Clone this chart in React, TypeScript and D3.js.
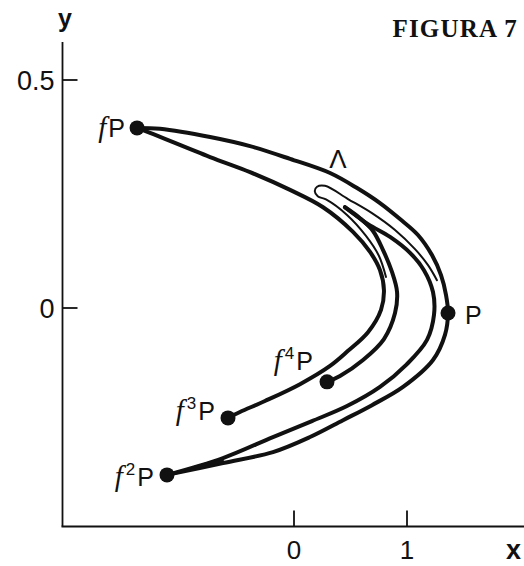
import React from "react";
import * as d3 from "d3";

const WIDTH = 524;
const HEIGHT = 566;

type Pt = [number, number];

// Orbit of the point P under the map f (powers 0..4), in (x, y) coordinates
const orbitPowers = [0, 1, 2, 3, 4];
const orbitPoints: Pt[] = [
  [1.363, -0.011], // P
  [-1.389, 0.395], // fP
  [-1.124, -0.366], // f²P
  [-0.584, -0.241], // f³P
  [0.292, -0.162], // f⁴P
];

// Outer branch of the folded curve: fP → P → f²P
const outerBranch: Pt[] = [
  [-1.389, 0.395], [-1.186, 0.393], [-0.743, 0.375], [-0.389, 0.355],
  [-0.035, 0.327], [0.319, 0.296], [0.558, 0.263], [0.761, 0.23],
  [0.938, 0.195], [1.097, 0.16], [1.221, 0.116], [1.301, 0.072],
  [1.345, 0.029], [1.363, -0.011], [1.336, -0.059], [1.23, -0.114],
  [0.965, -0.173], [0.69, -0.213], [0.434, -0.246], [0.142, -0.283],
  [-0.186, -0.316], [-0.628, -0.34], [-1.124, -0.366],
];

// Inner branch of the first fold: fP → f³P
const foldBranch: Pt[] = [
  [-1.389, 0.395], [-1.274, 0.384], [-0.743, 0.331], [-0.389, 0.298],
  [-0.035, 0.259], [0.257, 0.221], [0.522, 0.167], [0.673, 0.123],
  [0.761, 0.083], [0.796, 0.039], [0.77, -0.004], [0.655, -0.053],
  [0.478, -0.094], [0.319, -0.127], [0.053, -0.167], [-0.257, -0.204],
  [-0.478, -0.228], [-0.584, -0.241],
];

// Second fold, outer side: f²P → cusp
const secondFoldOuter: Pt[] = [
  [-1.124, -0.366], [-0.628, -0.329], [-0.186, -0.283], [0.159, -0.248],
  [0.469, -0.215], [0.761, -0.173], [1.0, -0.123], [1.177, -0.07],
  [1.239, -0.015], [1.23, 0.035], [1.15, 0.083], [1.027, 0.121],
  [0.85, 0.156], [0.655, 0.184], [0.451, 0.221],
];

// Second fold, inner side: cusp → f⁴P
const secondFoldInner: Pt[] = [
  [0.451, 0.221], [0.584, 0.197], [0.699, 0.169], [0.788, 0.127],
  [0.867, 0.079], [0.912, 0.035], [0.894, -0.011], [0.796, -0.068],
  [0.611, -0.114], [0.407, -0.149], [0.292, -0.162],
];

// Thin hairpin fold lying between the branches
const hairpinFold: Pt[] = [
  [1.265, 0.061], [1.186, 0.094], [1.071, 0.129], [0.894, 0.171],
  [0.69, 0.208], [0.478, 0.239], [0.274, 0.268], [0.204, 0.266],
  [0.184, 0.256], [0.21, 0.245], [0.283, 0.238], [0.469, 0.204],
  [0.637, 0.158], [0.752, 0.114], [0.814, 0.068],
];

const xTicks = [0, 1];
const xTickLabels = ["0", "1"];
const yTicks = [0, 0.5];
const yTickLabels = ["0", "0.5"];

const attractorName = "Λ";
const attractorAnchor: Pt = [0.389, 0.307];
const title = "FIGURA 7";

export default function App() {
  const x = d3.scaleLinear().domain([0, 1]).range([294, 407]);
  const y = d3.scaleLinear().domain([0, 0.5]).range([308, 80]);

  const axisLeft = 62.5;
  const axisBottom = 526.5;
  const axisTop = 42;
  const axisRight = WIDTH;

  const smooth = d3
    .line<Pt>()
    .x((d) => x(d[0]))
    .y((d) => y(d[1]))
    .curve(d3.curveCatmullRom.alpha(0.5));
  const straight = d3
    .line<Pt>()
    .x((d) => x(d[0]))
    .y((d) => y(d[1]))
    .curve(d3.curveLinearClosed);

  const n2 = secondFoldOuter.length;
  const cuspWedge: Pt[] = [
    secondFoldOuter[n2 - 1],
    secondFoldOuter[n2 - 2],
    secondFoldInner[2],
  ];
  const nO = outerBranch.length;
  const baseWedge: Pt[] = [
    secondFoldOuter[0],
    secondFoldOuter[1],
    outerBranch[nO - 2],
  ];

  const ink = "#111";
  const sans = "'Liberation Sans', Arial, sans-serif";
  const serif = "'Liberation Serif', 'Times New Roman', serif";

  // label placement relative to each orbit point: [dx, dy, anchor]
  const labelPlacement: Record<number, [number, number, "start" | "end"]> = {
    0: [17, 11, "start"],
    1: [-12, 9, "end"],
    2: [-13, 11, "end"],
    3: [-13, 2, "end"],
    4: [-14, -12, "end"],
  };

  return (
    <svg
      width={WIDTH}
      height={HEIGHT}
      style={{ position: "absolute", left: 0, top: 0, background: "#fff" }}
    >
      <rect width={WIDTH} height={HEIGHT} fill="#fff" />

      {/* axes */}
      <line x1={axisLeft} y1={axisTop} x2={axisLeft} y2={axisBottom} stroke={ink} strokeWidth={1.8} />
      <line x1={axisLeft - 1} y1={axisBottom} x2={axisRight} y2={axisBottom} stroke={ink} strokeWidth={2.2} />
      {yTicks.map((t, i) => (
        <g key={`yt${i}`}>
          <line x1={axisLeft} x2={axisLeft + 15} y1={y(t)} y2={y(t)} stroke={ink} strokeWidth={1.8} />
          <text
            x={axisLeft - 8}
            y={y(t) + 10}
            textAnchor="end"
            fontFamily={sans}
            fontSize={27}
            fill={ink}
          >
            {yTickLabels[i]}
          </text>
        </g>
      ))}
      {xTicks.map((t, i) => (
        <g key={`xt${i}`}>
          <line x1={x(t)} x2={x(t)} y1={axisBottom - 16} y2={axisBottom} stroke={ink} strokeWidth={1.8} />
          <text
            x={x(t)}
            y={559}
            textAnchor="middle"
            fontFamily={sans}
            fontSize={26}
            fill={ink}
          >
            {xTickLabels[i]}
          </text>
        </g>
      ))}
      <text x={65} y={27} textAnchor="middle" fontFamily={sans} fontSize={25} fontWeight="bold" fill={ink}>
        y
      </text>
      <text x={506} y={559} textAnchor="start" fontFamily={sans} fontSize={27} fontWeight="bold" fill={ink}>
        x
      </text>

      {/* title */}
      <text
        x={518}
        y={37}
        textAnchor="end"
        fontFamily={serif}
        fontSize={25}
        fontWeight="bold"
        letterSpacing={1.2}
        fill={ink}
      >
        {title}
      </text>

      {/* folded curves */}
      <g fill="none" stroke={ink} strokeLinecap="round" strokeLinejoin="round">
        <path d={smooth(outerBranch) ?? ""} strokeWidth={4} />
        <path d={smooth(foldBranch) ?? ""} strokeWidth={4} />
        <path d={smooth(secondFoldOuter) ?? ""} strokeWidth={4} />
        <path d={smooth(secondFoldInner) ?? ""} strokeWidth={4} />
        <path d={smooth(hairpinFold) ?? ""} strokeWidth={2} />
      </g>
      <path d={straight(cuspWedge) ?? ""} fill={ink} stroke={ink} strokeWidth={1.5} strokeLinejoin="round" />
      <path d={straight(baseWedge) ?? ""} fill={ink} stroke={ink} strokeWidth={1.5} strokeLinejoin="round" />

      <text
        x={x(attractorAnchor[0])}
        y={y(attractorAnchor[1])}
        textAnchor="middle"
        fontFamily={sans}
        fontSize={26}
        fill={ink}
      >
        {attractorName}
      </text>

      {/* orbit points */}
      {orbitPoints.map((p, i) => {
        const power = orbitPowers[i];
        const [dx, dy, anchor] = labelPlacement[power];
        const cx = x(p[0]);
        const cy = y(p[1]);
        return (
          <g key={`pt${i}`}>
            <circle cx={cx} cy={cy} r={7.5} fill={ink} />
            <text
              x={cx + dx}
              y={cy + dy}
              textAnchor={anchor}
              fontFamily={sans}
              fontSize={25}
              fill={ink}
            >
              {power > 0 && (
                <tspan fontFamily={serif} fontStyle="italic" fontSize={29}>
                  f
                </tspan>
              )}
              {power > 1 && (
                <tspan fontSize={17} dy={-11} dx={3}>
                  {power}
                </tspan>
              )}
              <tspan dy={power > 1 ? 11 : 0} dx={power > 0 ? 2 : 0}>
                P
              </tspan>
            </text>
          </g>
        );
      })}
    </svg>
  );
}
